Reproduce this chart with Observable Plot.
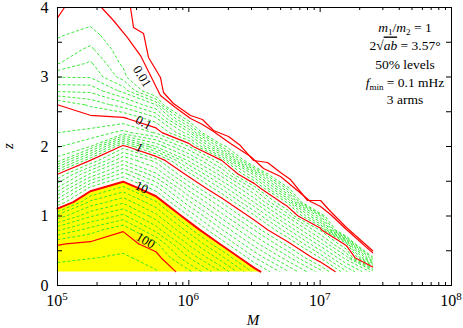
<!DOCTYPE html>
<html>
<head>
<meta charset="utf-8">
<script src="https://cdn.jsdelivr.net/npm/d3@7"></script>
<script src="https://cdn.jsdelivr.net/npm/@observablehq/plot@0.6"></script>
<style>
  html, body { margin: 0; padding: 0; background: #fff; }
</style>
</head>
<body>
<div id="wrap"></div>
<script>
// ---- grid of the mapped quantity ----
const logM  = [5.0, 5.25, 5.5, 5.75, 6.0, 6.25, 6.5, 6.75, 7.0, 7.2, 7.4];
const zRows = [0.2,0.4,0.6,0.8,1.0,1.2,1.4,1.6,1.8,2.0,2.2,2.4,2.6,2.8,3.0,3.2,3.4,3.6,3.8,4.0];

const col_5_00 = [253, 172, 99.1, 68.5, 33.4, 7.93, 4.15, 1.0, 0.442, 0.289, 0.199, 0.145, 0.1, 0.0685, 0.0496, 0.0289, 0.0235, 0.019, 0.0118, 0.00955];
const col_5_25 = [271, 194.5, 127, 84.7, 58.6, 32.5, 9.37, 5.23, 1.0, 0.4, 0.226, 0.139, 0.088, 0.0676, 0.0492, 0.0415, 0.032, 0.0241, 0.0177, 0.0145];
const col_5_50 = [271, 217, 163, 99.1, 73, 47.8, 23.5, 8.47, 4.96, 1.54, 0.334, 0.127, 0.0748, 0.0469, 0.0253, 0.0172, 0.0136, 0.0109, 0.00928, 0.0082];
const col_5_75 = [208, 154, 92.8, 66.3, 43.8, 21.3, 8.43, 5.23, 2.62, 0.595, 0.184, 0.0834, 0.05, 0.0091, 0.0064, 0.0037, 0.001, 0, 0, 0];
const col_6_00 = [92.8, 70.3, 47.8, 24.4, 9.01, 6.22, 3.43, 0.945, 0.577, 0.208, 0.0627, 0.0118, 0.001, 0.0005, 0, 0, 0, 0, 0, 0];
const col_6_25 = [59.5, 33.4, 9.73, 7.12, 4.51, 1.9, 0.78, 0.442, 0.1, 0.0304, 0.0046, 0.002, 0.001, 0, 0, 0, 0, 0, 0, 0];
const col_6_50 = [16.3, 8.07, 5.5, 2.93, 0.918, 0.59, 0.264, 0.0667, 0.0073, 0.0046, 0.0019, 0, 0, 0, 0, 0, 0, 0, 0, 0];
const col_6_75 = [7.17, 4.37, 1.56, 0.723, 0.379, 0.0877, 0.0262, 0.0046, 0.0019, 0.001, 0, 0, 0, 0, 0, 0, 0, 0, 0, 0];
const col_7_00 = [3.48, 0.894, 0.541, 0.188, 0.0429, 0.0019, 0.001, 0, 0, 0, 0, 0, 0, 0, 0, 0, 0, 0, 0, 0];
const col_7_20 = [0.811, 0.447, 0.0946, 0.0046, 0.001, 0, 0, 0, 0, 0, 0, 0, 0, 0, 0, 0, 0, 0, 0, 0];
const col_7_40 = [0.46, 0.028, 0.0005, 0, 0, 0, 0, 0, 0, 0, 0, 0, 0, 0, 0, 0, 0, 0, 0, 0];
const columns = [col_5_00, col_5_25, col_5_50, col_5_75, col_6_00, col_6_25, col_6_50, col_6_75, col_7_00, col_7_20, col_7_40];

// contour levels
const decades = [0.01, 0.1, 1, 10, 100];
const steps = [2, 3, 4, 5, 6, 7, 8, 9];
const redLevels = [0.1, 1, 100];
const thickLevel = 10;
const fillLevel = 10;

// outermost contours
const inner_logM = [5.335,5.426,5.533,5.632,5.708,5.784,5.898,6.013,6.104,6.188,6.317,6.470,6.569,6.698,6.827,6.926,7.003,7.079,7.200,7.400];
const inner_z    = [4.0,3.813,3.568,3.309,3.022,2.734,2.561,2.403,2.317,2.216,2.043,1.856,1.683,1.568,1.367,1.209,1.137,1.022,0.806,0.470];
const outer_logM = [5.556,5.579,5.655,5.693,5.784,5.807,5.883,6.013,6.104,6.188,6.302,6.393,6.492,6.599,6.698,6.774,6.904,7.003,7.079,7.200,7.400];
const outer_z    = [4.0,3.712,3.626,3.281,2.993,2.777,2.619,2.446,2.388,2.230,2.144,2.014,1.799,1.770,1.626,1.525,1.223,1.223,1.065,0.835,0.500];
const corner_logM = [5.0, 5.053];
const corner_z    = [3.85, 4.0];

// contour labels
const labelText  = ["0.01", "0.1", "1", "10", "100"];
const labelLogM  = [5.643, 5.655, 5.624, 5.640, 5.670];
const labelZ     = [3.007, 2.345, 1.986, 1.410, 0.647];
const labelAngle = [58, 28, 28, 25, 30];

// axes
const xTickValues = [1e5, 1e6, 1e7, 1e8];
const xTickExp = ["5", "6", "7", "8"];
const xMinorMant = [2, 3, 4, 5, 6, 7, 8, 9];
const yTickValues = [0, 1, 2, 3, 4];
const yTickMarks = [0, 0.5, 1, 1.5, 2, 2.5, 3, 3.5, 4];

// ---- processing ----
const T = v => {
  if (!(v > 0)) return -4;
  const k = Math.floor(Math.log10(v) + 1e-9);
  return k + (v / Math.pow(10, k) - 1) / 9;
};
const nx = logM.length, ny = zRows.length;
const grid = new Array(nx * ny);
for (let j = 0; j < ny; j++) for (let i = 0; i < nx; i++) grid[j * nx + i] = T(columns[i][j]);
const gen = d3.contours().size([nx, ny]);

function mapPt([gx, gy]) {
  const u = Math.max(0, Math.min(nx - 1, gx - 0.5));
  const v = Math.max(0, Math.min(ny - 1, gy - 0.5));
  const i = Math.min(nx - 2, Math.floor(u)), f = u - i;
  const lm = logM[i] + f * (logM[i + 1] - logM[i]);
  const j = Math.min(ny - 2, Math.floor(v)), g = v - j;
  const z = zRows[j] + g * (zRows[j + 1] - zRows[j]);
  const e = 1e-7;
  return {M: Math.pow(10, lm), z, L: u <= e, R: u >= nx - 1 - e, B: v <= e, Tp: v >= ny - 1 - e};
}
function contourLines(t) {
  const mp = gen.contour(grid, t);
  const out = [];
  for (const poly of mp.coordinates) for (const ring of poly) {
    const pts = ring.map(mapPt);
    let cur = null;
    for (let k = 0; k < pts.length - 1; k++) {
      const a = pts[k], b = pts[k + 1];
      const bnd = (a.L && b.L) || (a.R && b.R) || (a.B && b.B) || (a.Tp && b.Tp);
      if (bnd) { if (cur) { out.push(cur); cur = null; } continue; }
      if (!cur) cur = [a];
      cur.push(b);
    }
    if (cur) out.push(cur);
  }
  return out;
}
let uid = 0;
function rowsFor(levels) {
  const rows = [];
  for (const lv of levels) for (const pl of contourLines(T(lv))) {
    uid++;
    for (const p of pl) rows.push({M: p.M, z: p.z, id: uid});
  }
  return rows;
}
const greenLevels = decades.flatMap(d => steps.map(m => m * d));
const greenRows = rowsFor(greenLevels);
const redRows = rowsFor(redLevels);
const thickRows = rowsFor([thickLevel]);

const fillRows = [];
{
  const mp = gen.contour(grid, T(fillLevel));
  for (const poly of mp.coordinates) for (const ring of poly) {
    uid++;
    for (const pt of ring) { const p = mapPt(pt); fillRows.push({M: p.M, z: p.z, id: uid}); }
  }
}
const tracedRows = [];
[[inner_logM, inner_z], [outer_logM, outer_z], [corner_logM, corner_z]].forEach(([lm, zz], k) => {
  lm.forEach((v, i) => tracedRows.push({M: Math.pow(10, v), z: zz[i], id: "t" + k}));
});
const labels = labelText.map((t, i) => ({t, M: Math.pow(10, labelLogM[i]), z: labelZ[i], a: labelAngle[i]}));
const xMinor = [1e5, 1e6, 1e7].flatMap(d => xMinorMant.map(m => m * d));

const FONT = "'Liberation Serif', 'DejaVu Serif', serif";
const chart = Plot.plot({
  width: 463, height: 328,
  marginLeft: 57, marginRight: 12, marginTop: 7, marginBottom: 43,
  x: {type: "log", domain: [1e5, 1e8], axis: null},
  y: {domain: [0, 4]},
  style: {background: "#fff", fontFamily: FONT, fontSize: "15px", color: "black"},
  marks: [
    Plot.line(fillRows, {x: "M", y: "z", z: "id", fill: "#ffff00", stroke: "none"}),
    Plot.line(greenRows, {x: "M", y: "z", z: "id", stroke: "#22e622", strokeWidth: 0.9, strokeDasharray: "3,2", strokeLinecap: "butt"}),
    Plot.line(redRows, {x: "M", y: "z", z: "id", stroke: "#ff0000", strokeWidth: 1.2}),
    Plot.line(thickRows, {x: "M", y: "z", z: "id", stroke: "#ff0000", strokeWidth: 2}),
    Plot.line(tracedRows, {x: "M", y: "z", z: "id", stroke: "#ff0000", strokeWidth: 1.2}),
    Plot.text(labels, {x: "M", y: "z", text: "t", rotate: "a", fontSize: 13, fill: "black", fontFamily: FONT}),
    Plot.tickX(xTickValues, {x: d => d, insetTop: 278 - 5, stroke: "black"}),
    Plot.tickX(xTickValues, {x: d => d, insetBottom: 278 - 5, stroke: "black"}),
    Plot.tickX(xMinor, {x: d => d, insetTop: 278 - 3, stroke: "black"}),
    Plot.tickX(xMinor, {x: d => d, insetBottom: 278 - 3, stroke: "black"}),
    Plot.tickY(yTickMarks, {y: d => d, insetRight: 394 - 5, stroke: "black"}),
    Plot.tickY(yTickMarks, {y: d => d, insetLeft: 394 - 5, stroke: "black"}),
    Plot.axisY({ticks: yTickValues, tickSize: 0, tickPadding: 9, fontSize: 16, tickFormat: d => String(d), label: null}),
    Plot.frame({stroke: "black"})
  ]
});
document.getElementById("wrap").appendChild(chart);

// ---- text added on top ----
const svg = d3.select(chart);
const xs = chart.scale("x");
xTickValues.forEach((v, i) => {
  const t = svg.append("text").attr("x", xs.apply(v)).attr("y", 306)
    .attr("text-anchor", "middle").attr("font-size", 16).attr("font-family", FONT).attr("fill", "black");
  t.append("tspan").text("10");
  t.append("tspan").attr("dy", -6).attr("font-size", 11).text(xTickExp[i]);
});
svg.append("text").attr("x", 253).attr("y", 325).attr("text-anchor", "middle")
  .attr("font-size", 15).attr("font-style", "italic").attr("font-family", FONT).text("M");
svg.append("text").attr("transform", "translate(13,146) rotate(-90)").attr("text-anchor", "middle")
  .attr("font-size", 15).attr("font-style", "italic").attr("font-family", FONT).text("z");

const cx = 405;
function line(y) {
  return svg.append("text").attr("x", cx).attr("y", y).attr("text-anchor", "middle")
    .attr("font-size", 13.5).attr("font-family", FONT).attr("fill", "black");
}
{
  const t = line(31.5);
  t.append("tspan").attr("font-style", "italic").text("m");
  t.append("tspan").attr("font-size", 9).attr("dy", 3).text("1");
  t.append("tspan").attr("dy", -3).text("/");
  t.append("tspan").attr("font-style", "italic").text("m");
  t.append("tspan").attr("font-size", 9).attr("dy", 3).text("2");
  t.append("tspan").attr("dy", -3).text(" = 1");
}
{
  const t = line(49.5);
  t.append("tspan").text("2√");
  t.append("tspan").attr("font-style", "italic").attr("text-decoration", "overline").text("ab");
  t.append("tspan").text(" = 3.57°");
}
line(68.5).text("50% levels");
{
  const t = line(86.5);
  t.append("tspan").attr("font-style", "italic").text("f");
  t.append("tspan").attr("font-size", 9).attr("dy", 3).text("min");
  t.append("tspan").attr("dy", -3).text(" = 0.1 mHz");
}
line(103.5).text("3 arms");
</script>
</body>
</html>
